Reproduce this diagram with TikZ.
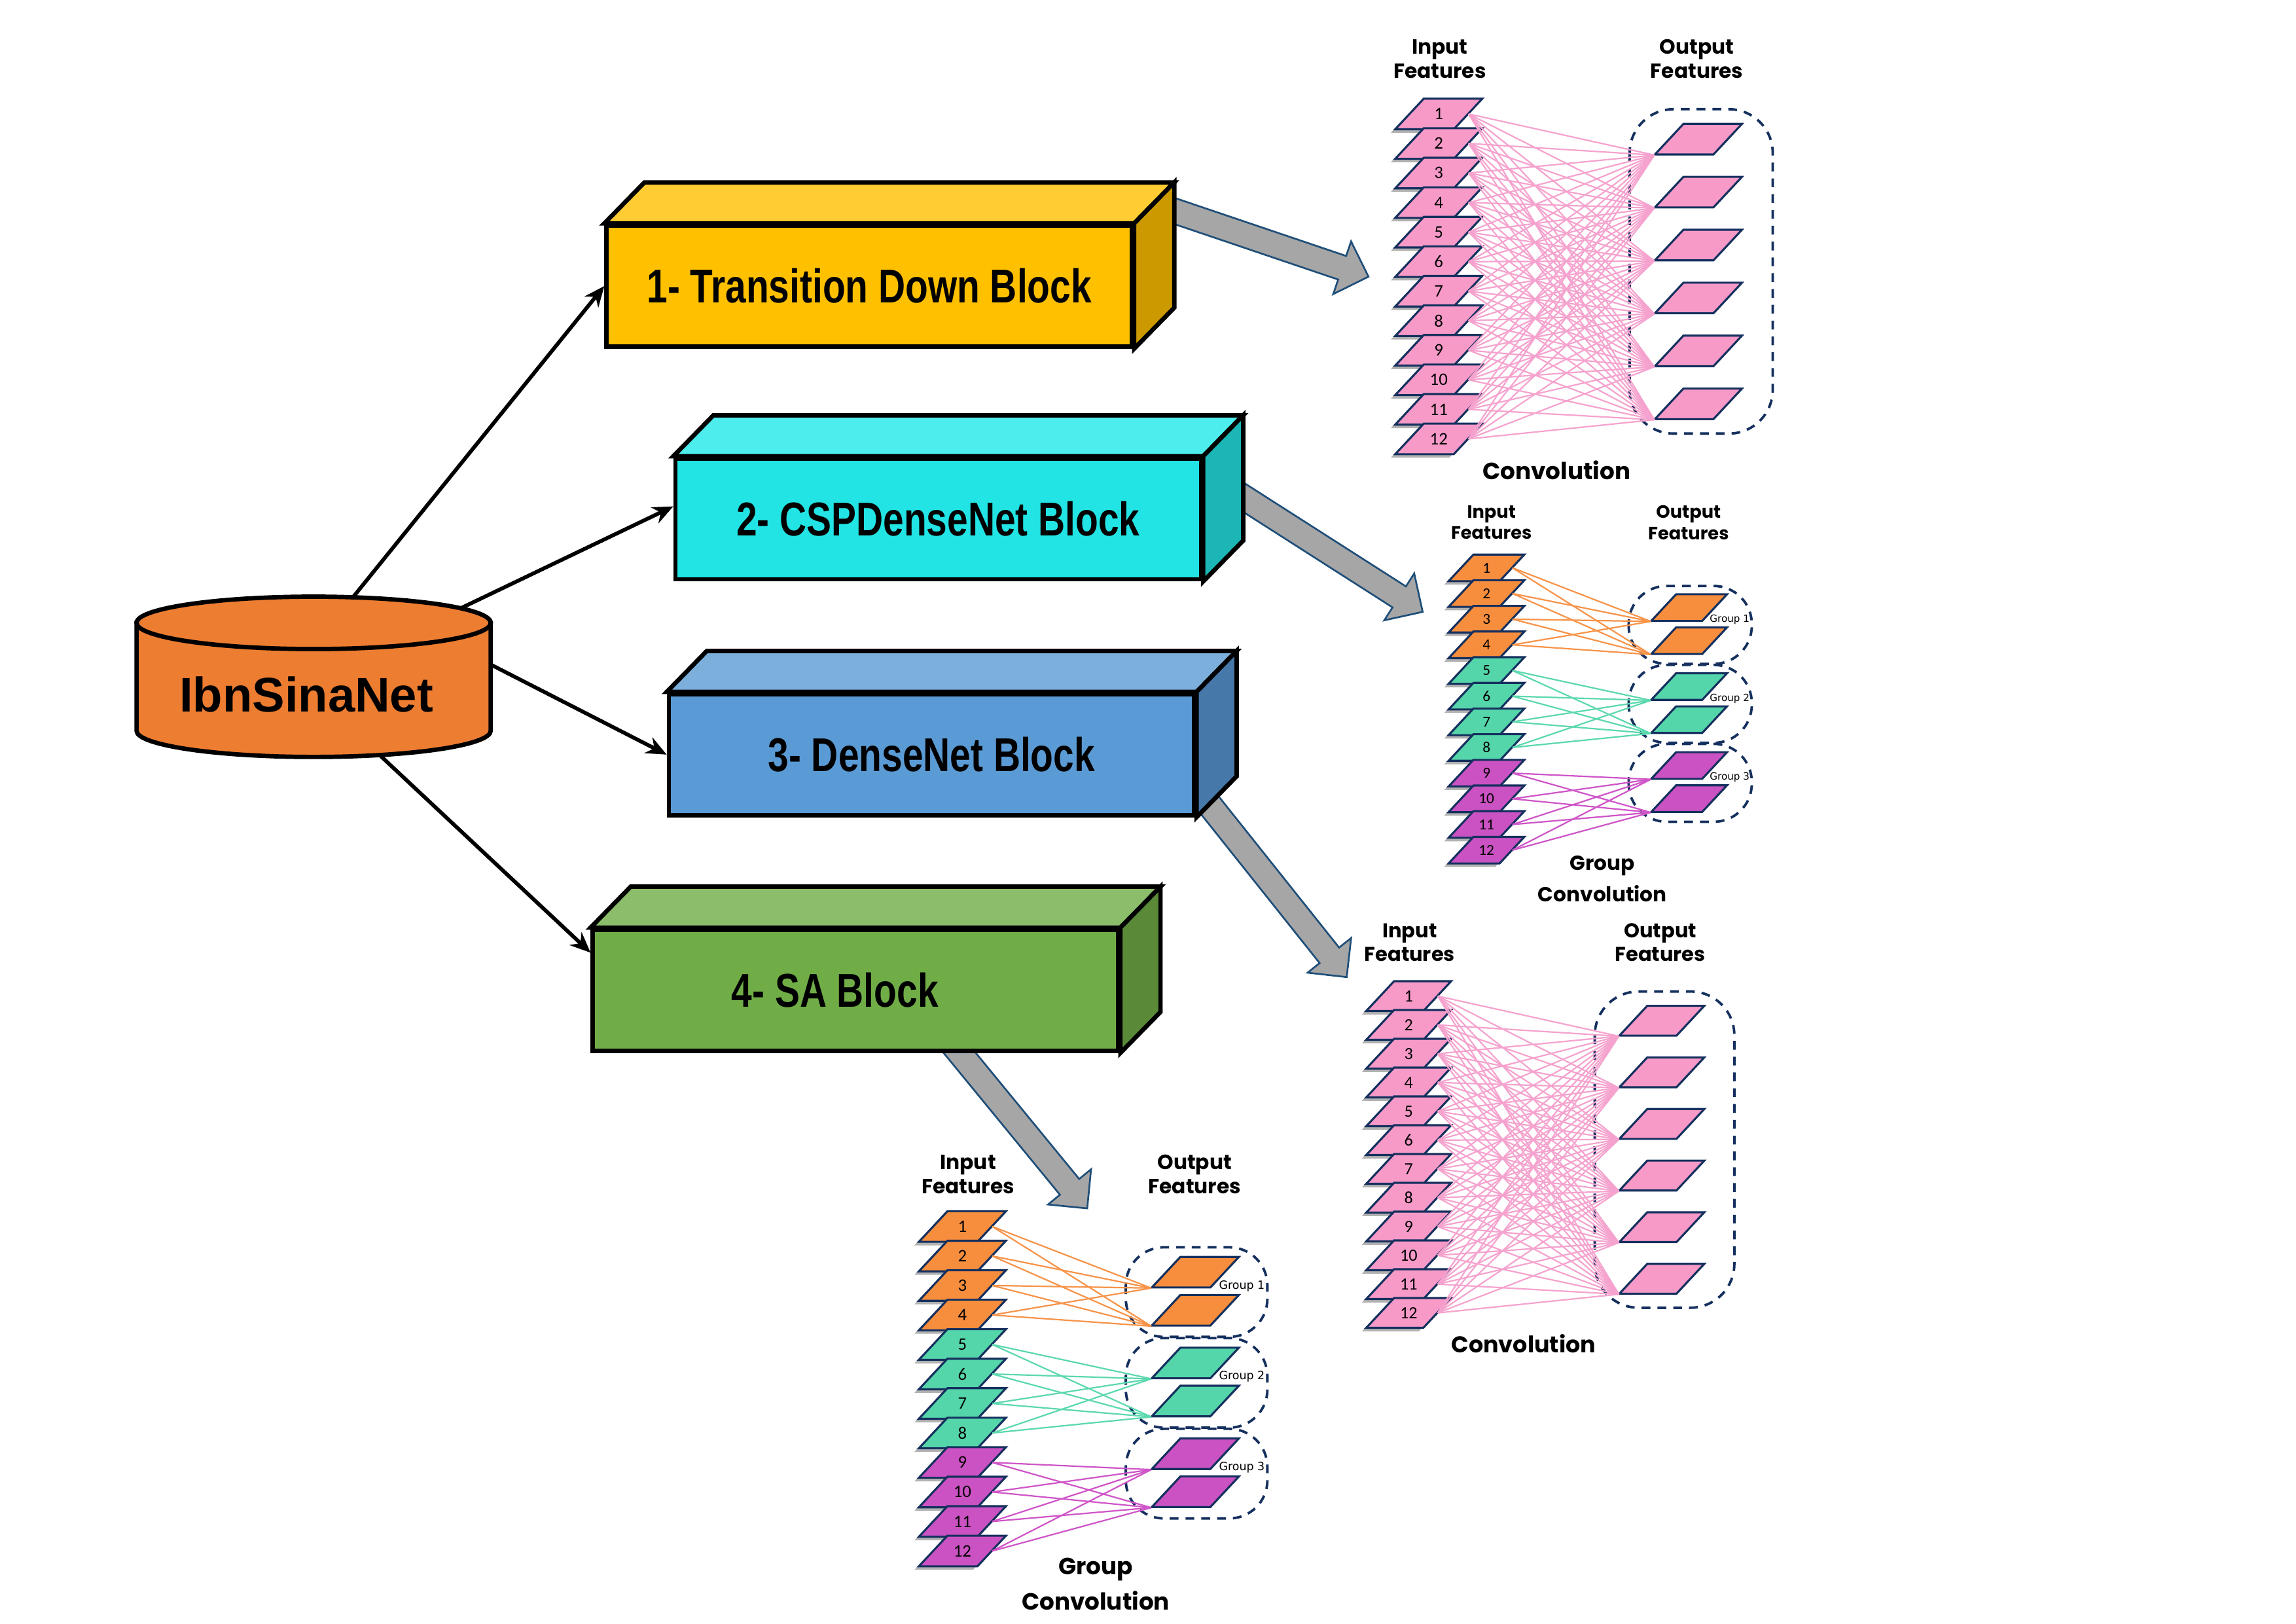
\documentclass[tikz,border=0pt]{standalone}
\usepackage{fontspec}
\usepackage{graphicx}
\usetikzlibrary{arrows.meta,calc,shapes.geometric,shadows,backgrounds}
\newfontfamily\libfont{Liberation Sans}
\newfontfamily\popfont{Poppins}
\newfontfamily\numfont{Carlito}
\newfontfamily\dvfont{DejaVu Sans}
\definecolor{cylorange}{HTML}{ED7D31}
\definecolor{bAf}{HTML}{FFC000}\definecolor{bAt}{HTML}{FFCD33}\definecolor{bAs}{HTML}{CC9A00}
\definecolor{bBf}{HTML}{22E4E4}\definecolor{bBt}{HTML}{4EEDED}\definecolor{bBs}{HTML}{1CB6B6}
\definecolor{bCf}{HTML}{5B9BD5}\definecolor{bCt}{HTML}{7DAFDD}\definecolor{bCs}{HTML}{4678AA}
\definecolor{bDf}{HTML}{70AD47}\definecolor{bDt}{HTML}{8CBD6A}\definecolor{bDs}{HTML}{5A8A38}
\definecolor{arrowgrey}{HTML}{A6A6A6}\definecolor{arrowblue}{HTML}{1F4E79}
\definecolor{pinkF}{HTML}{F79AC8}\definecolor{pinkL}{HTML}{F5A3CE}
\definecolor{orangeF}{HTML}{F78E3D}\definecolor{orangeL}{HTML}{F7944A}
\definecolor{greenF}{HTML}{55D5AA}\definecolor{greenL}{HTML}{5CD8AE}
\definecolor{magF}{HTML}{CB52C2}\definecolor{magL}{HTML}{CF55C8}
\definecolor{navy}{HTML}{15305E}
\newcommand\pgram[4]{%
  \filldraw[pgramstyle, fill=#3, #4] ({#1-29.75},{#2+10.45}) -- ({#1+10.25},{#2+10.45})
    -- ({#1+29.75},{#2-10.45}) -- ({#1-10.25},{#2-10.45}) -- cycle;}
\tikzset{
  cylline/.style={draw=black, line width=1.5pt},
  blockface/.style={draw=black, line width=1.5pt, line join=miter},
  blockfront/.style={blockface, rectangle, inner sep=0pt, minimum width=179.5pt, minimum height=41.3pt,
    font=\libfont\bfseries\fontsize{16.2}{18}\selectfont},
  blocktext/.style={inner sep=0pt, font=\libfont\bfseries\fontsize{16.2}{18}\selectfont},
  feed/.style={draw=black, line width=1.3pt, -{Stealth[length=7pt,width=6pt]}},
  fatarrowstyle/.style={fill=arrowgrey, draw=arrowblue, line width=0.6pt, line join=miter},
  pgramstyle/.style={draw=navy, line width=0.7pt, line join=miter},
  inbox/.style={rectangle, inner sep=0pt, minimum width=20pt, minimum height=10.45pt,
    font=\numfont\fontsize{6}{7}\selectfont},
  outbox/.style={rectangle, inner sep=0pt, minimum width=29.75pt, minimum height=10.45pt},
  shadowed/.style={drop shadow={shadow xshift=-1.5pt, shadow yshift=-1.2pt, opacity=0.3, fill=black}},
  conn/.style={line width=0.5pt},
  dashbox/.style={draw=navy, line width=0.85pt, dash pattern=on 3pt off 2.4pt},
  lbl/.style={font=\popfont\bfseries\fontsize{7}{8.4}\selectfont, align=center, inner sep=0pt},
  ttl/.style={font=\popfont\bfseries\fontsize{8}{12.2}\selectfont, align=center, inner sep=0pt},
  grplbl/.style={font=\dvfont\fontsize{3.9}{4.2}\selectfont, text=black, inner sep=0pt},
  fullconv/.pic={
    \draw[dashbox, rounded corners=15pt] (160,7.2) rectangle (257.8,228.8);
    \foreach \i in {1,...,12}{
      \pgfmathsetmacro\cy{(\i-1)*20.18+10.45}
      \pgram{29.6}{\cy}{pinkF}{shadowed}
      \node[inbox] (-in\i) at (29.6,\cy) {\i};
    }
    \foreach \j in {1,...,6}{
      \pgfmathsetmacro\cy{17.2+(\j-1)*36.16+10.5}
      \pgram{207}{\cy}{pinkF}{}
      \node[outbox] (-out\j) at (207,\cy) {};
    }
    \foreach \i in {1,...,12}{
      \foreach \j in {1,...,6}{
        \draw[conn, draw=pinkL] (-in\i.east) -- (-out\j.south west);
      }
    }
    \node[lbl] (-il) at (30.3,-27.1) {Input\\Features};
    \node[lbl] (-ol) at (205.9,-27.1) {Output\\Features};
    \node[ttl] (-tt) at (110.1,253.8) {Convolution};
  },
  groupconv/.pic={
    \foreach \g/\fc/\lc [count=\gi from 0] in {1/orangeF/orangeL, 2/greenF/greenL, 3/magF/magL}{
      \draw[dashbox, rounded corners=13pt] (141.2,{24.7+62*\gi}) rectangle (237.9,{85.9+62*\gi});
      \pgfmathsetmacro\cya{31.2+62*\gi+10.5}
      \pgfmathsetmacro\cyb{57.2+62*\gi+10.5}
      \pgram{188.7}{\cya}{\fc}{}
      \node[outbox] (-oa\g) at (188.7,\cya) {};
      \pgram{188.7}{\cyb}{\fc}{}
      \node[outbox] (-ob\g) at (188.7,\cyb) {};
      \node[grplbl] (-gl\g) at (220.5,{31.2+62*\gi+19.8}) {Group \g};
      \foreach \k in {1,...,4}{
        \pgfmathtruncatemacro\ii{4*\gi+\k}
        \pgfmathsetmacro\cy{(\ii-1)*20.15+10.5}
        \pgram{29.55}{\cy}{\fc}{shadowed}
        \node[inbox] (-in\ii) at (29.55,\cy) {\ii};
      }
      \foreach \k in {1,...,4}{
        \pgfmathtruncatemacro\ii{4*\gi+\k}
        \draw[conn, draw=\lc] (-in\ii.east) -- (-oa\g.south west);
        \draw[conn, draw=\lc] (-in\ii.east) -- (-ob\g.south west);
      }
    }
    \node[lbl] (-il) at (33.4,-25.15) {Input\\Features};
    \node[lbl] (-ol) at (188.2,-25.15) {Output\\Features};
    \node[ttl] (-tt) at (120.6,254.75) {Group\\Convolution};
  }
}
\newcommand\drawblock[6]{%
  \node[blockfront, fill=#3] (#1) at (#2) {#6};
  \draw[blockface, fill=#4] (#1.north west) -- ++(27.4,-28) -- ($(#1.north east)+(27.4,-28)$) -- (#1.north east) -- cycle;
  \draw[blockface, fill=#5] (#1.north east) -- ++(27.4,-28) -- ($(#1.south east)+(27.4,-28)$) -- (#1.south east) -- cycle;
}
\newcommand\fatarrow[2]{%
  \coordinate (#1h) at ($(#2)!9.5pt!(#1)$);
  \filldraw[fatarrowstyle] ($(#1)!4.25pt!90:(#2)$) -- ($(#1h)!4.25pt!90:(#2)$) -- ($(#1h)!9.5pt!90:(#2)$)
    -- (#2) -- ($(#1h)!9.5pt!-90:(#2)$) -- ($(#1h)!4.25pt!-90:(#2)$) -- ($(#1)!4.25pt!-90:(#2)$) -- cycle;
}
\begin{document}
\begin{tikzpicture}[x=0.5pt,y=-0.5pt]
\useasboundingbox (0,0) rectangle (1568.7,1109);
% database cylinder
\draw[cylline, fill=cylorange] (93.3,425.5) -- (93.3,499.2)
  arc[start angle=180,end angle=360,x radius=60.5pt,y radius=8.95pt] -- (335.3,425.5) -- cycle;
\draw[cylline, fill=cylorange] (214.3,425.5) ellipse[x radius=60.5pt,y radius=8.95pt];
\node[inner sep=0pt, font=\libfont\bfseries\fontsize{16.6}{19}\selectfont] (ibn) at (209.3,474.6) {IbnSinaNet};
\coordinate (c1) at (241,408.2);
\coordinate (c2) at (315,415.4);
\coordinate (c3) at (335.3,454);
\coordinate (c4) at (259.5,515.9);
% blocks
\drawblock{b1}{593.9,195.4}{bAf}{bAt}{bAs}{\scalebox{0.785}[1]{1- Transition Down Block}}
\drawblock{b2}{641,354.5}{bBf}{bBt}{bBs}{\scalebox{0.785}[1]{2- CSPDenseNet Block}}
\drawblock{b3}{636.5,515.5}{bCf}{bCt}{bCs}{\scalebox{0.785}[1]{3- DenseNet Block}}
\drawblock{b4}{584.5,676.5}{bDf}{bDt}{bDs}{}
\node[blocktext] (t4) at ($(b4)+(-14,0)$) {\scalebox{0.785}[1]{4- SA Block}};
% feed arrows
\draw[feed] (c1) -- (b1.west);
\draw[feed] (c2) -- ($(b2.north west)!0.4!(b2.south west)$);
\draw[feed] (c3) -- (b3.west);
\draw[feed] (c4) -- ($(b4.north west)!0.2!(b4.south west)$);
% panels
\pic (p1) at (953.4,67.4) {fullconv};
\pic[scale=0.975, transform shape] (p3) at (933.6,670.3) {fullconv};
\pic (p4) at (628,827.4) {groupconv};
\pic[scale=0.87, transform shape] (p2) at (989.9,378.8) {groupconv};
% grey block arrows behind the blocks
\coordinate (a1s) at ($(b1.north east)+(10.6,-14.2)$);
\coordinate (a1t) at (935,189);
\coordinate (a2s) at ($(b2.north east)+(15,20)$);
\coordinate (a2t) at (972,418);
\coordinate (a3s) at ($(b3.south east)+(-2.8,-23.1)$);
\coordinate (a3t) at (920.1,667.5);
\coordinate (a4s) at ($(b4.south)+(63,-10)$);
\coordinate (a4t) at (742.8,825.5);
\begin{pgfonlayer}{background}
\fatarrow{a1s}{a1t}
\fatarrow{a2s}{a2t}
\fatarrow{a3s}{a3t}
\fatarrow{a4s}{a4t}
\end{pgfonlayer}
\end{tikzpicture}
\end{document}
